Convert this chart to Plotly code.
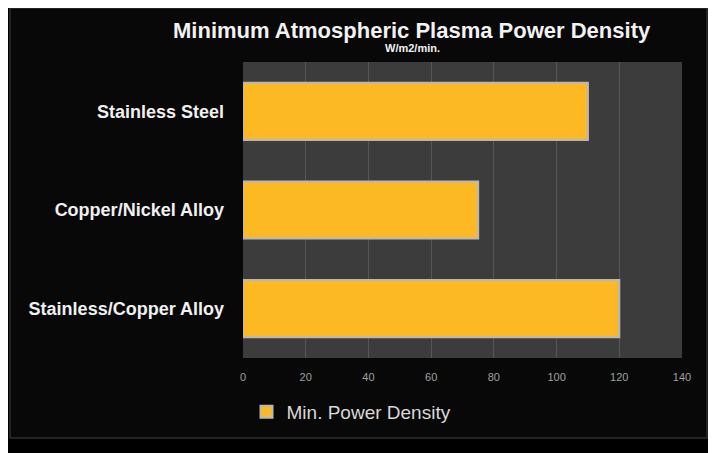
import plotly.graph_objects as go

categories = ["Stainless/Copper Alloy", "Copper/Nickel Alloy", "Stainless Steel"]
values = [120, 75, 110]
series_name = "Min. Power Density"
tick_vals = [0, 20, 40, 60, 80, 100, 120, 140]

FONT = "Liberation Sans, Arial, sans-serif"

fig = go.Figure()
fig.add_trace(go.Bar(
    y=categories, x=values, orientation="h", name=series_name,
    marker=dict(color="#FDB924", line=dict(color="#b8b8b8", width=2)),
    width=0.58, showlegend=True,
))

fig.update_layout(
    width=700, height=445,
    paper_bgcolor="#000000", plot_bgcolor="#3c3c3c",
    margin=dict(l=235, r=26, t=54, b=95),
    font=dict(family=FONT, color="white"),
    xaxis=dict(
        range=[0, 140], tickvals=tick_vals, showgrid=True, gridcolor="#575757", gridwidth=1,
        zeroline=False, tickfont=dict(size=11, color="#a0a0a0"), ticks="",
        ticklabelstandoff=11, fixedrange=True,
    ),
    yaxis=dict(
        categoryorder="array", categoryarray=categories,
        tickfont=dict(size=18, color="#f0f0f0", family=FONT),
        ticklabelstandoff=18, showgrid=False, fixedrange=True,
        tickprefix="<b>", ticksuffix="</b>",
    ),
    legend=dict(
        orientation="h", x=0.008, xanchor="left", y=-0.182, yanchor="middle",
        font=dict(size=19, color="#d8d8d8"), bgcolor="rgba(0,0,0,0)",
        itemwidth=30,
    ),
    annotations=[
        dict(text="<b>Minimum Atmospheric Plasma Power Density</b>", xref="paper", yref="paper",
             x=0.385, y=1 + 31 / 296, xanchor="center", yanchor="middle",
             showarrow=False, font=dict(size=22, color="#f2f2f2", family=FONT)),
        dict(text="<b>W/m2/min.</b>", xref="paper", yref="paper",
             x=0.385, y=1 + 14 / 296, xanchor="center", yanchor="middle",
             showarrow=False, font=dict(size=11, color="#f2f2f2", family=FONT)),
    ],
    shapes=[
        dict(type="rect", xref="paper", yref="paper",
             x0=-233 / 439, x1=464 / 439, y0=-80 / 296, y1=350 / 296,
             line=dict(color="#2e2e2e", width=1.5), fillcolor="#080808", layer="below"),
        dict(type="rect", xref="paper", yref="paper",
             x0=0, x1=1, y0=0, y1=1,
             line=dict(width=0), fillcolor="#3c3c3c", layer="below"),
    ],
)

fig.write_html("out.html")
